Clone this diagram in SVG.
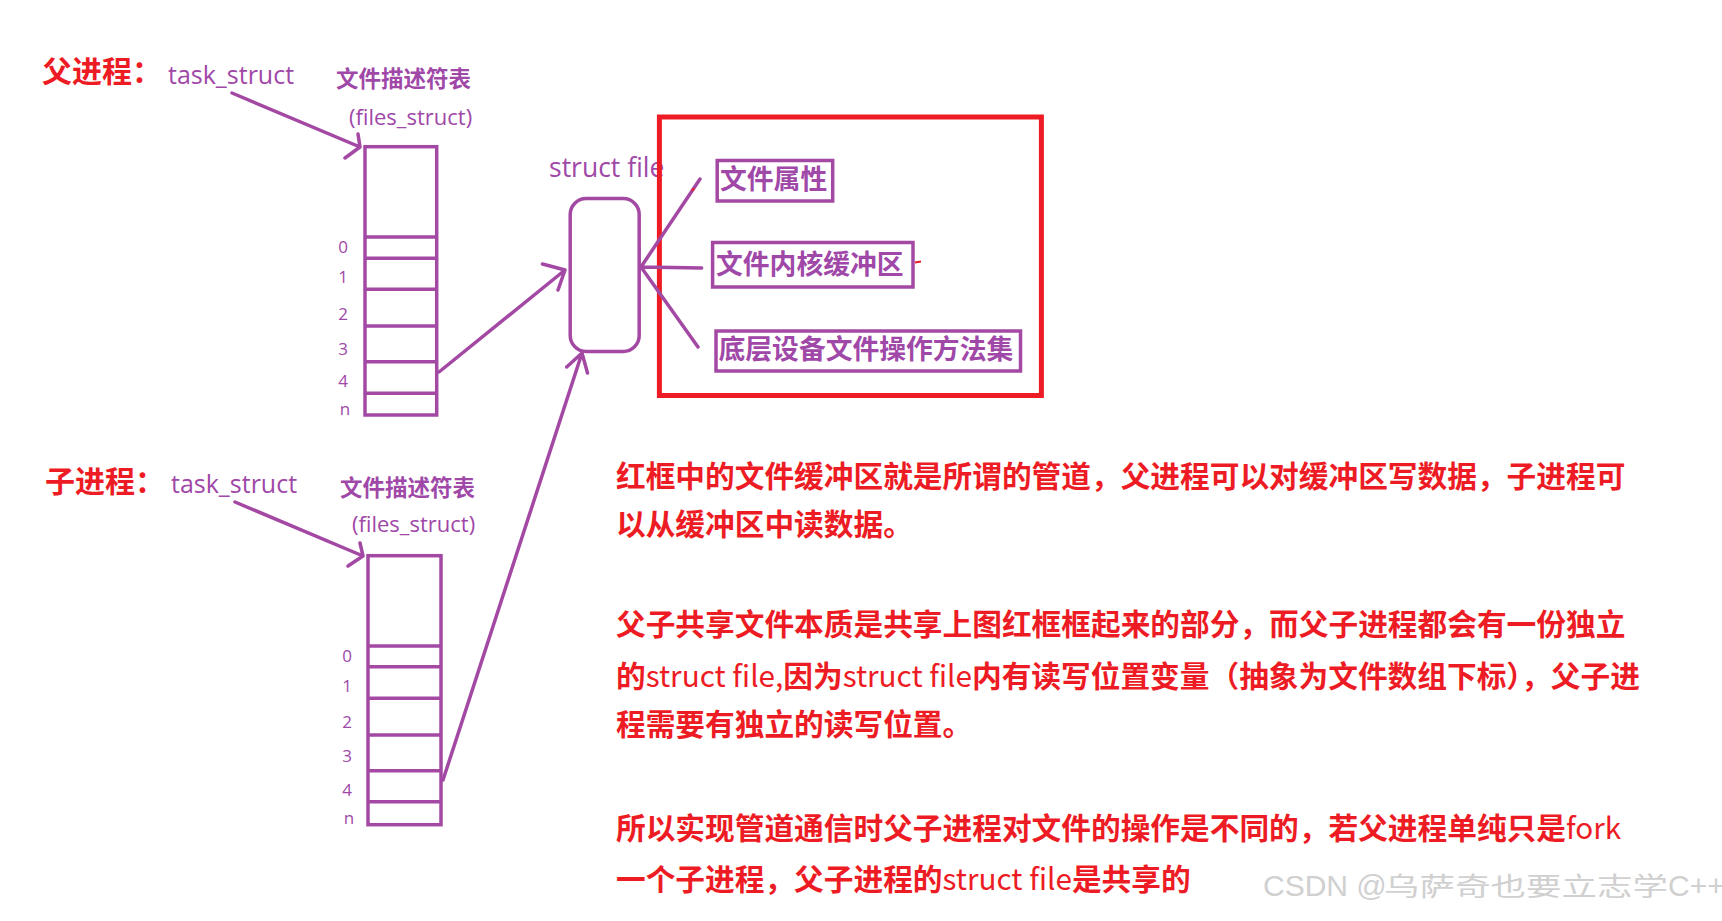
<svg xmlns="http://www.w3.org/2000/svg" width="1722" height="921" viewBox="0 0 1722 921">
<style>
.pu{fill:none;stroke:#A349A4;stroke-width:3.5;stroke-linecap:round;stroke-linejoin:round}
.box{fill:none;stroke:#A349A4;stroke-width:3.5}
.lat{font-family:"Open Sans","Liberation Sans",sans-serif;fill:#A048A8}
.cjkp{font-family:"Noto Sans CJK SC",sans-serif;font-weight:bold;fill:#A048A8}
.red{font-family:"Noto Sans CJK SC",sans-serif;font-weight:bold;fill:#ED1C24}
.p{font-size:29.7px}
.num{font-family:"Open Sans","Liberation Sans",sans-serif;font-size:17px;fill:#A048A8;text-anchor:middle}
.lt{font-weight:normal}
.wm{font-family:"Liberation Sans","Noto Sans CJK SC",sans-serif;font-size:30px;fill:#d0d0d0}
</style>
<rect width="1722" height="921" fill="#ffffff"/>

<g id="parent-label">
<text class="red" x="42" y="82" font-size="30">父进程：</text>
<text class="lat" x="168" y="84" font-size="25">task_struct</text>
<text class="cjkp" x="336" y="87" font-size="22.5">文件描述符表</text>
<text class="lat" x="349" y="125" font-size="22">(files_struct)</text>
</g>

<g id="parent-fd-table">
<rect class="box" x="365" y="146.7" width="71.7" height="268.3"/>
<path class="box" d="M365,237H436.7M365,258.3H436.7M365,289.3H436.7M365,326H436.7M365,361.7H436.7M365,393.3H436.7"/>
<text class="num" x="343" y="252.7">0</text>
<text class="num" x="343" y="283">1</text>
<text class="num" x="343" y="320">2</text>
<text class="num" x="343" y="355">3</text>
<text class="num" x="343" y="387">4</text>
<text class="num" x="345" y="415">n</text>
</g>

<g id="child-label">
<text class="red" x="45" y="492" font-size="30">子进程：</text>
<text class="lat" x="171" y="493" font-size="25">task_struct</text>
<text class="cjkp" x="340" y="496" font-size="22.5">文件描述符表</text>
<text class="lat" x="352" y="532" font-size="22">(files_struct)</text>
</g>

<g id="child-fd-table">
<rect class="box" x="368" y="555.7" width="73" height="269"/>
<path class="box" d="M368,646H441M368,666.7H441M368,698.3H441M368,735H441M368,770.7H441M368,801.7H441"/>
<text class="num" x="347" y="661.7">0</text>
<text class="num" x="347" y="691.7">1</text>
<text class="num" x="347" y="727.7">2</text>
<text class="num" x="347" y="762">3</text>
<text class="num" x="347" y="795.7">4</text>
<text class="num" x="349" y="824">n</text>
</g>

<g id="struct-file">
<text class="lat" x="549" y="177" font-size="26.5">struct file</text>
<rect x="570.2" y="198.5" width="69" height="153" rx="16" fill="none" stroke="#A349A4" stroke-width="3.5"/>
</g>

<g id="shared-region">
<rect x="659.4" y="117" width="382" height="278.5" fill="none" stroke="#ED1C24" stroke-width="5"/>
</g>

<g id="file-attributes">
<rect class="box" x="717.2" y="160.5" width="115.5" height="40.5"/>
<text class="cjkp" x="720" y="189" font-size="26.8">文件属性</text>
</g>
<g id="kernel-buffer">
<rect class="box" x="712.6" y="242.5" width="200.4" height="44.5"/>
<text class="cjkp" x="716" y="274" font-size="26.8">文件内核缓冲区</text>
</g>
<g id="device-ops">
<rect class="box" x="716" y="331" width="304.5" height="40"/>
<text class="cjkp" x="718.5" y="359" font-size="26.8">底层设备文件操作方法集</text>
</g>

<g id="connectors">
<path class="pu" stroke-width="4" d="M232,93L360,147M358,134L360,147L345,158"/>
<path class="pu" stroke-width="4" d="M235,502L363,556M360,543L363,556L348,566"/>
<path class="pu" d="M439,372L565,270M542.5,264L565,270L558,290"/>
<path class="pu" d="M443,780L582,353M566.7,367L582,353L587.5,373"/>
<path class="pu" stroke-width="3" d="M641,267L700,179M641,267L701.7,268M641,267L698,347"/>
<path d="M915,262.5L921,261.5M692,191L694,188" stroke="#ED1C24" stroke-width="2" fill="none"/>
</g>

<g id="notes">
<text class="red p" x="616" y="487">红框中的文件缓冲区就是所谓的管道，父进程可以对缓冲区写数据，子进程可</text>
<text class="red p" x="616" y="535">以从缓冲区中读数据。</text>
<text class="red p" x="616" y="635">父子共享文件本质是共享上图红框框起来的部分，而父子进程都会有一份独立</text>
<text class="red p" x="616" y="687">的<tspan class="lt">struct file,</tspan>因为<tspan class="lt">struct file</tspan>内有读写位置变量（抽象为文件数组下标），父子进</text>
<text class="red p" x="616" y="735">程需要有独立的读写位置。</text>
<text class="red p" x="616" y="839">所以实现管道通信时父子进程对文件的操作是不同的，若父进程单纯只是<tspan class="lt">fork</tspan></text>
<text class="red p" x="616" y="890">一个子进程，父子进程的<tspan class="lt">struct file</tspan>是共享的</text>
</g>

<g id="watermark">
<text class="wm" y="896"><tspan x="1263">CSDN @</tspan><tspan x="1384" font-size="26" textLength="284" lengthAdjust="spacingAndGlyphs">乌萨奇也要立志学</tspan><tspan x="1668">C++</tspan></text>
</g>
</svg>
